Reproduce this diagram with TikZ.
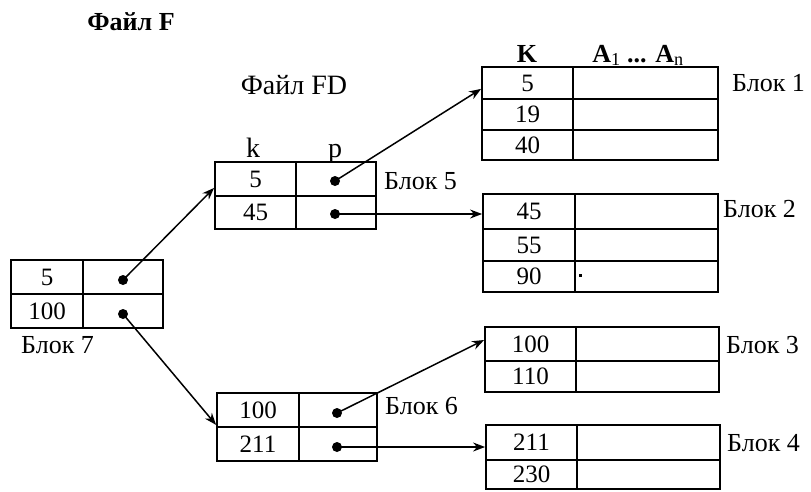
\documentclass[tikz,border=0pt]{standalone}
\usepackage{fontspec}
\setmainfont{Liberation Serif}
\usetikzlibrary{arrows.meta}
\tikzset{
  cell/.style={draw, line width=1.8pt, inner sep=0pt, font=\fontsize{25}{28}\selectfont},
  wh/.style 2 args={minimum width=#1pt, minimum height=#2pt},
  dot/.style={circle, fill=black, inner sep=0pt, minimum size=10pt},
  arr/.style={line width=1.5pt, -{Stealth[length=12pt, width=9pt]}},
  lbl/.style={inner sep=0pt, font=\fontsize{26}{30}\selectfont},
  head/.style={inner sep=0pt, font=\fontsize{26}{30}\selectfont\bfseries},
}
\begin{document}
\begin{tikzpicture}[x=1pt,y=-1pt]
\useasboundingbox (0,0) rectangle (811,491);
% titles
\node[head] (tF) at (131,22) {Файл F};
\node[lbl, font=\fontsize{28}{32}\selectfont] (tFD) at (294,85) {Файл FD};
% Block 7
\node[cell, wh={72}{34}] (b7k1) at (47,277) {5};
\node[cell, wh={80}{34}] (b7p1) at (123,277) {};
\node[cell, wh={72}{34}] (b7k2) at (47,311) {100};
\node[cell, wh={80}{34}] (b7p2) at (123,311) {};
\node[dot] (b7d1) at (123,280) {};
\node[dot] (b7d2) at (123,314) {};
\node[lbl, anchor=west] (l7) at (21,345) {Блок 7};
% File FD, Block 5
\node[lbl, anchor=base, font=\fontsize{28}{32}\selectfont] (hk) at (253,157) {k};
\node[lbl, anchor=base, font=\fontsize{28}{32}\selectfont] (hp) at (335,157) {p};
\node[cell, wh={81}{34}] (fdk1) at (255.5,179) {5};
\node[cell, wh={80}{34}] (fdp1) at (336,179) {};
\node[cell, wh={81}{33}] (fdk2) at (255.5,212.5) {45};
\node[cell, wh={80}{33}] (fdp2) at (336,212.5) {};
\node[dot] (fdd1) at (335,181) {};
\node[dot] (fdd2) at (335,214) {};
\node[lbl, anchor=west] (l5) at (384,181) {Блок 5};
% Block 6
\node[cell, wh={82}{34}] (b6k1) at (258,410) {100};
\node[cell, wh={78}{34}] (b6p1) at (338,410) {};
\node[cell, wh={82}{34}] (b6k2) at (258,444) {211};
\node[cell, wh={78}{34}] (b6p2) at (338,444) {};
\node[dot] (b6d1) at (337,413) {};
\node[dot] (b6d2) at (337,447) {};
\node[lbl, anchor=west] (l6) at (385,406) {Блок 6};
% Block 1
\node[head, anchor=base] (hK) at (527,62) {K};
\node[head, anchor=base] (hA) at (638,62) {A\textsubscript{\mdseries 1} ... A\textsubscript{\mdseries n}};
\node[cell, wh={91}{32}] (b1k1) at (527.5,83) {5};
\node[cell, wh={145}{32}] (b1a1) at (645.5,83) {};
\node[cell, wh={91}{31}] (b1k2) at (527.5,114.5) {19};
\node[cell, wh={145}{31}] (b1a2) at (645.5,114.5) {};
\node[cell, wh={91}{30}] (b1k3) at (527.5,145) {40};
\node[cell, wh={145}{30}] (b1a3) at (645.5,145) {};
\node[lbl, anchor=west] (l1) at (732,83) {Блок 1};
% Block 2
\node[cell, wh={92}{35}] (b2k1) at (529,211.5) {45};
\node[cell, wh={143}{35}] (b2a1) at (646.5,211.5) {};
\node[cell, wh={92}{32}] (b2k2) at (529,245) {55};
\node[cell, wh={143}{32}] (b2a2) at (646.5,245) {};
\node[cell, wh={92}{31}] (b2k3) at (529,276.5) {90};
\node[cell, wh={143}{31}] (b2a3) at (646.5,276.5) {};
\fill (578.5,274) rectangle (582,277);
\node[lbl, anchor=west] (l2) at (723,209) {Блок 2};
% Block 3
\node[cell, wh={91}{34}] (b3k1) at (530.5,344) {100};
\node[cell, wh={143}{34}] (b3a1) at (647.5,344) {};
\node[cell, wh={91}{31}] (b3k2) at (530.5,376.5) {110};
\node[cell, wh={143}{31}] (b3a2) at (647.5,376.5) {};
\node[lbl, anchor=west] (l3) at (726,345) {Блок 3};
% Block 4
\node[cell, wh={91}{35}] (b4k1) at (531.5,442.5) {211};
\node[cell, wh={143}{35}] (b4a1) at (648.5,442.5) {};
\node[cell, wh={91}{29}] (b4k2) at (531.5,474.5) {230};
\node[cell, wh={143}{29}] (b4a2) at (648.5,474.5) {};
\node[lbl, anchor=west] (l4) at (727,443) {Блок 4};
% connectors
\draw[arr] (b7d1.center) -- ([yshift=9pt]fdk1.south west);
\draw[arr] (b7d2.center) -- ([yshift=3pt]b6k1.south west);
\draw[arr] (fdd1.center) -- ([yshift=11pt]b1k1.south west);
\draw[arr] (fdd2.center) -- (fdd2 -| b2k1.west);
\draw[arr] (b6d1.center) -- ([yshift=4pt]b3k1.west);
\draw[arr] (b6d2.center) -- (b6d2 -| b4k1.west);
\end{tikzpicture}
\end{document}
